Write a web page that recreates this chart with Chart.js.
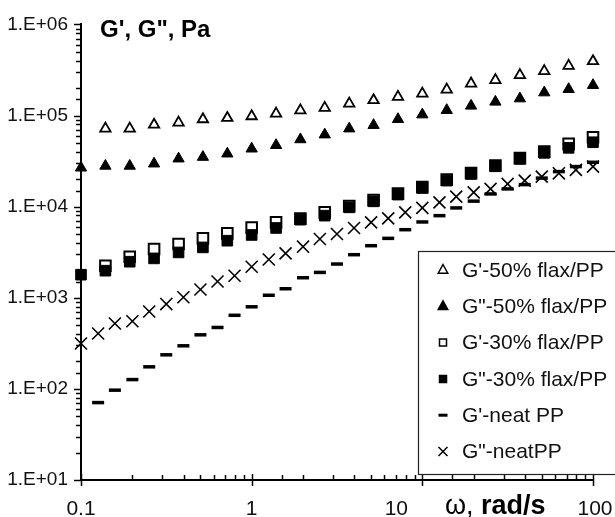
<!DOCTYPE html>
<html><head><meta charset="utf-8">
<script src="https://cdn.jsdelivr.net/npm/chart.js@4.4.1/dist/chart.umd.min.js"></script>
<style>html,body{margin:0;padding:0;background:#fff}#wrap{width:615px;height:517px;position:relative}</style>
</head><body><div id="wrap"><canvas id="c" width="615" height="517"></canvas></div>
<script>
// ---- data ----
const freqA = [0.1,0.126,0.158,0.2,0.251,0.316,0.398,0.501,0.631,0.794,1,1.26,1.58,2,2.51,3.16,3.98,5.01,6.31,7.94,10,12.6,15.8,20,25.1,31.6,39.8,50.1,63.1,79.4,100];
const freqB = [0.1,0.139,0.193,0.268,0.373,0.518,0.72,1,1.39,1.93,2.68,3.73,5.18,7.2,10,13.9,19.3,26.8,37.3,51.8,72,100];

const gp50  = [null,71800,71800,79300,83500,91000,94100,98200,105000,113800,121200,135200,147300,160200,174100,192500,224200,244400,277200,306700,350700,394700];
const gpp50 = [26700,27960,27960,29600,33600,35000,38100,43200,47200,54600,61700,71800,78300,91000,102300,114400,127600,141200,153400,178500,194500,215200];
const gp30  = [null,2247,2823,3428,3892,4486,5090,5877,6720,7380,8650,10120,11790,13890,16380,19800,23350,28230,34120,40200,48870,57760];
const gpp30 = [1791,1982,2487,2704,3145,3570,4229,4887,5833,7194,7962,9823,11430,13550,16040,19300,22870,27720,33430,38910,44160,50900];
const gpNeat  = [null,70.7,96.8,126.5,174.6,236.5,297,392,472,642,796,1065,1256,1659,1897,2345,2969,3727,4486,5585,6790,7962,9680,11490,13790,15660,17450,20560,24250,27520,30670];
const gppNeat = [314.6,405,522,552,707,853,1012,1231,1510,1744,2192,2630,3069,3634,4418,5012,5833,6720,7436,8650,9680,11150,12880,14360,15660,17760,19300,21370,23220,25310,27520];

const seriesLabels = ["G'-50% flax/PP", 'G"-50% flax/PP', "G'-30% flax/PP", 'G"-30% flax/PP', "G'-neat PP", 'G"-neatPP'];
const xTickValues = [0.1, 1, 10, 100];
const xTickLabels = ['0.1', '1', '10', '100'];
const yTitle = 'G\', G", Pa';
const xTitleSym = 'ω, ';
const xTitleUnit = 'rad/s';

const FONT = '"Liberation Sans", Arial, Helvetica, sans-serif';

function pts(xs, ys) { return xs.map((x, i) => ({x: x, y: ys[i]})); }

const styles = [
  {pointStyle:'triangle', radius:6,   bw:1.8, bg:'#fff', order:6},
  {pointStyle:'triangle', radius:6.5, bw:1,   bg:'#000', order:5},
  {pointStyle:'rect',     radius:7.5, bw:2,   bg:'#fff', order:4},
  {pointStyle:'rect',     radius:7.5, bw:1,   bg:'#000', order:3},
  {pointStyle:'line',     radius:6,   bw:3.5, bg:'#000', order:2},
  {pointStyle:'crossRot', radius:8.5, bw:1.6, bg:'#000', order:1}
];
const dataSets = [pts(freqB,gp50), pts(freqB,gpp50), pts(freqB,gp30), pts(freqB,gpp30), pts(freqA,gpNeat), pts(freqA,gppNeat)];

const datasets = dataSets.map((d, i) => ({
  label: seriesLabels[i],
  data: d,
  showLine: false,
  pointStyle: styles[i].pointStyle,
  pointRadius: styles[i].radius,
  pointHoverRadius: styles[i].radius,
  pointBorderWidth: styles[i].bw,
  pointBackgroundColor: styles[i].bg,
  pointBorderColor: '#000',
  order: styles[i].order,
  clip: false
}));

function isPow10(v) { const l = Math.log10(v); return Math.abs(l - Math.round(l)) < 1e-9; }

// ticks, titles, legend
const decorPlugin = {
  id: 'decor',
  afterDraw(chart) {
    const ctx = chart.ctx;
    const xs = chart.scales.x, ys = chart.scales.y;
    const ca = chart.chartArea;
    ctx.save();
    ctx.strokeStyle = '#000';
    ctx.lineWidth = 1.5;
    // y ticks (outside, left)
    ys.ticks.forEach(t => {
      const y = Math.round(ys.getPixelForValue(t.value)) + 0.5;
      const len = isPow10(t.value) ? 7 : 5;
      ctx.beginPath(); ctx.moveTo(ca.left, y); ctx.lineTo(ca.left - len, y); ctx.stroke();
    });
    // x ticks
    xs.ticks.forEach(t => {
      const x = Math.round(xs.getPixelForValue(t.value)) + 0.5;
      ctx.beginPath();
      if (isPow10(t.value)) { ctx.moveTo(x, ca.bottom - 6); ctx.lineTo(x, ca.bottom + 6); }
      else { ctx.moveTo(x, ca.bottom); ctx.lineTo(x, ca.bottom - 5); }
      ctx.stroke();
    });
    // x tick labels
    const nudge = [0, 0, -26, 2];
    ctx.fillStyle = '#111';
    ctx.font = '21px ' + FONT;
    ctx.textAlign = 'center';
    ctx.textBaseline = 'alphabetic';
    xTickValues.forEach((v, i) => {
      ctx.fillText(xTickLabels[i], xs.getPixelForValue(v) + nudge[i], 515);
    });
    // axis titles
    ctx.textAlign = 'left';
    ctx.fillStyle = '#000';
    ctx.font = 'bold 24px ' + FONT;
    ctx.fillText(yTitle, 100, 37);
    ctx.font = '27px ' + FONT;
    ctx.fillText(xTitleSym, 445, 514);
    const w = ctx.measureText(xTitleSym).width;
    ctx.font = 'bold 27px ' + FONT;
    ctx.fillText(xTitleUnit, 445 + w, 514);

    // legend
    const lx = 418.5, ly = 251.5, lw = 210, lh = 223;
    ctx.fillStyle = '#fff';
    ctx.fillRect(lx, ly, lw, lh);
    ctx.lineWidth = 1.2;
    ctx.strokeStyle = '#222';
    ctx.strokeRect(lx, ly, lw, lh);
    ctx.font = '21px ' + FONT;
    ctx.textBaseline = 'middle';
    const mx = 443;
    seriesLabels.forEach((lab, i) => {
      const cy = 270 + i * 36.3;
      const st = styles[i];
      ctx.fillStyle = st.bg; ctx.strokeStyle = '#000';
      ctx.beginPath();
      if (st.pointStyle === 'triangle') {
        const r = 5.5;
        ctx.lineWidth = 1.5;
        ctx.moveTo(mx, cy - r);
        ctx.lineTo(mx + r * 0.866, cy + r / 2 + 0.5);
        ctx.lineTo(mx - r * 0.866, cy + r / 2 + 0.5);
        ctx.closePath(); ctx.fill(); ctx.stroke();
      } else if (st.pointStyle === 'rect') {
        ctx.lineWidth = 1.5;
        ctx.rect(mx - 3.5, cy - 3.5, 7, 7); ctx.fill(); ctx.stroke();
      } else if (st.pointStyle === 'line') {
        ctx.lineWidth = 3;
        ctx.moveTo(mx - 4.5, cy); ctx.lineTo(mx + 4.5, cy); ctx.stroke();
      } else {
        ctx.lineWidth = 1.5;
        ctx.moveTo(mx - 4.5, cy - 4.5); ctx.lineTo(mx + 4.5, cy + 4.5);
        ctx.moveTo(mx + 4.5, cy - 4.5); ctx.lineTo(mx - 4.5, cy + 4.5); ctx.stroke();
      }
      ctx.fillStyle = '#111';
      ctx.fillText(lab, 462, cy + 1);
    });
    ctx.restore();
  }
};

new Chart(document.getElementById('c'), {
  type: 'scatter',
  data: { datasets: datasets },
  options: {
    responsive: false,
    animation: false,
    devicePixelRatio: 1,
    layout: { padding: { top: 24, right: 22, left: 0, bottom: 0 } },
    plugins: { legend: { display: false }, tooltip: { enabled: false } },
    events: [],
    scales: {
      x: {
        type: 'logarithmic', min: 0.1, max: 100,
        grid: { display: false, drawTicks: false },
        border: { display: true, color: '#000', width: 2 },
        ticks: { display: false, autoSkip: false },
        afterFit(s) { s.height = 37; }
      },
      y: {
        type: 'logarithmic', min: 10, max: 1000000,
        grid: { display: false, drawTicks: false },
        border: { display: true, color: '#000', width: 2 },
        ticks: {
          autoSkip: false, padding: 13, color: '#111',
          font: { family: FONT, size: 19 },
          callback: function (v) {
            if (!isPow10(v)) return '';
            const e = Math.round(Math.log10(v));
            return '1.E+' + (e < 10 ? '0' + e : e);
          }
        },
        afterFit(s) { s.width = 81; }
      }
    }
  },
  plugins: [decorPlugin]
});
</script>
</body></html>
